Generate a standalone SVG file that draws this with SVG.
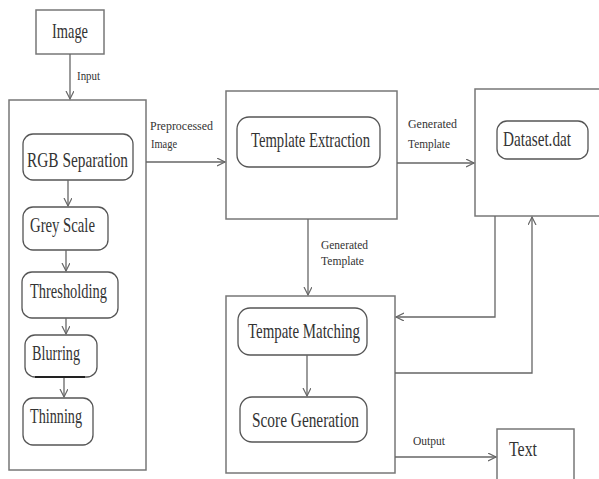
<svg xmlns="http://www.w3.org/2000/svg" width="599" height="479" viewBox="0 0 599 479">
<style>
.box{fill:#fff;stroke:#777;stroke-width:1.5}
.rbox{fill:#fff;stroke:#555;stroke-width:1.3}
.t{font-family:"Liberation Serif","Times New Roman",serif;font-size:21px;fill:#333}
.s{font-family:"Liberation Serif","Times New Roman",serif;font-size:13px;fill:#333}
.c{fill:none;stroke:#666;stroke-width:1.3}
</style>
<defs>
<marker id="ah" markerWidth="10" markerHeight="10" refX="8" refY="4" orient="auto" markerUnits="userSpaceOnUse">
<path d="M0,0 L8,4 L0,8" fill="none" stroke="#666" stroke-width="1.2"/>
</marker>
</defs>
<rect width="599" height="479" fill="#fff"/>
<g id="image">
<rect class="box" x="36" y="10" width="68" height="44"/>
<text class="t" x="52" y="38" textLength="36" lengthAdjust="spacingAndGlyphs">Image</text>
</g>
<g id="preprocessing">
<rect class="box" x="9" y="100" width="137" height="370"/>
</g>
<g id="rgb">
<rect class="rbox" x="23" y="134" width="110" height="46" rx="10"/>
<text class="t" x="27" y="167" textLength="101" lengthAdjust="spacingAndGlyphs">RGB Separation</text>
</g>
<g id="grey">
<rect class="rbox" x="23" y="207" width="85" height="43" rx="10"/>
<text class="t" x="30" y="232" textLength="65" lengthAdjust="spacingAndGlyphs">Grey Scale</text>
</g>
<g id="thresholding">
<rect class="rbox" x="22" y="272" width="96" height="46" rx="10"/>
<text class="t" x="30" y="298" textLength="77" lengthAdjust="spacingAndGlyphs">Thresholding</text>
</g>
<g id="blurring">
<rect class="rbox" x="25" y="335" width="72" height="42" rx="10"/>
<line x1="35" y1="377" x2="85" y2="377" stroke="#222" stroke-width="2.2"/>
<text class="t" x="32" y="360" textLength="48" lengthAdjust="spacingAndGlyphs">Blurring</text>
</g>
<g id="thinning">
<rect class="rbox" x="23" y="398" width="70" height="47" rx="10"/>
<text class="t" x="30" y="423" textLength="52" lengthAdjust="spacingAndGlyphs">Thinning</text>
</g>
<g id="extraction">
<rect class="box" x="226" y="91" width="171" height="128"/>
<rect class="rbox" x="237" y="117" width="143" height="50" rx="12"/>
<text class="t" x="251" y="147" font-size="18" textLength="119" lengthAdjust="spacingAndGlyphs">Template Extraction</text>
</g>
<g id="dataset">
<rect class="box" x="475" y="89" width="130" height="127"/>
<rect class="rbox" x="497" y="121" width="91" height="38" rx="10"/>
<text class="t" x="503" y="146" textLength="68" lengthAdjust="spacingAndGlyphs">Dataset.dat</text>
</g>
<g id="matching">
<rect class="box" x="226" y="296" width="169" height="177"/>
<rect class="rbox" x="238" y="308" width="129" height="47" rx="12"/>
<text class="t" x="248" y="338" textLength="112" lengthAdjust="spacingAndGlyphs">Tempate Matching</text>
<rect class="rbox" x="240" y="397" width="127" height="45" rx="12"/>
<text class="t" x="252" y="427" textLength="107" lengthAdjust="spacingAndGlyphs">Score Generation</text>
</g>
<g id="text-out">
<rect class="box" x="497" y="429" width="77" height="60"/>
<text class="t" x="509" y="456" textLength="28" lengthAdjust="spacingAndGlyphs">Text</text>
</g>
<g id="connectors">
<path class="c" d="M70,54 V99" marker-end="url(#ah)"/>
<path class="c" d="M68,180 V206" marker-end="url(#ah)"/>
<path class="c" d="M66,250 V271" marker-end="url(#ah)"/>
<path class="c" d="M66,318 V334" marker-end="url(#ah)"/>
<path class="c" d="M64,378 V397" marker-end="url(#ah)"/>
<path class="c" d="M146,162 H225" marker-end="url(#ah)"/>
<path class="c" d="M397,163 H474" marker-end="url(#ah)"/>
<path class="c" d="M308,219 V295" marker-end="url(#ah)"/>
<path class="c" d="M495,216 V317 H396" marker-end="url(#ah)"/>
<path class="c" d="M395,373 H532 V217" marker-end="url(#ah)"/>
<path class="c" d="M395,457 H496" marker-end="url(#ah)"/>
<path class="c" d="M307,355 V396" marker-end="url(#ah)"/>
<text class="s" x="77" y="80" textLength="23" lengthAdjust="spacingAndGlyphs">Input</text>
<text class="s" x="150" y="130" textLength="63" lengthAdjust="spacingAndGlyphs">Preprocessed</text>
<text class="s" x="151" y="148" textLength="26" lengthAdjust="spacingAndGlyphs">Image</text>
<text class="s" x="408" y="128" textLength="49" lengthAdjust="spacingAndGlyphs">Generated</text>
<text class="s" x="408" y="148" textLength="42" lengthAdjust="spacingAndGlyphs">Template</text>
<text class="s" x="321" y="249" textLength="47" lengthAdjust="spacingAndGlyphs">Generated</text>
<text class="s" x="321" y="265" textLength="43" lengthAdjust="spacingAndGlyphs">Template</text>
<text class="s" x="413" y="445" textLength="32" lengthAdjust="spacingAndGlyphs">Output</text>
</g>
</svg>
